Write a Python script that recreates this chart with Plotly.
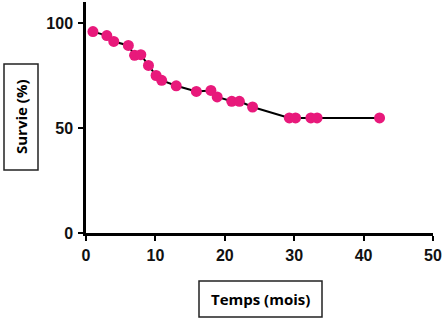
import plotly.graph_objects as go

temps = [1, 3, 4, 6.1, 7, 7.9, 9, 10.1, 10.9, 13, 15.9, 18, 18.9, 21, 22.1, 24, 29.3, 30.2, 32.4, 33.3, 42.3]
survie = [95.9, 94.0, 91.2, 89.3, 84.6, 84.9, 79.8, 75.0, 72.7, 70.1, 67.4, 67.9, 64.8, 62.7, 62.7, 60.0, 54.8, 54.8, 54.8, 54.8, 54.8]
x_ticks = [0, 10, 20, 30, 40, 50]
y_ticks = [0, 50, 100]
x_title = "Temps (mois)"
y_title = "Survie (%)"

W, H = 448, 321
L, R, T, B = 86, 15, 2, 88
pw, ph = W - L - R, H - T - B


def px(x):
    return (x - L) / pw


def py(y):
    return (H - B - y) / ph


fig = go.Figure()
fig.add_trace(go.Scatter(
    x=temps, y=survie, mode="lines+markers",
    line=dict(color="black", width=2),
    marker=dict(color="#e8197b", size=11, line=dict(width=0)),
    showlegend=False,
))

axis_font = dict(family="Liberation Sans, Arial, sans-serif", size=16, color="#111111")
fig.update_xaxes(
    range=[0, 50], tickvals=x_ticks, ticktext=[str(v) for v in x_ticks],
    showline=True, linecolor="black", linewidth=2.5, ticks="outside",
    ticklen=5, tickwidth=2, tickcolor="black", showgrid=False, zeroline=False,
    tickfont=dict(**axis_font, weight="bold"), ticklabelstandoff=1,
)
fig.update_yaxes(
    range=[0, 110], tickvals=y_ticks, ticktext=[str(v) for v in y_ticks],
    showline=True, linecolor="black", linewidth=2.5, ticks="outside",
    ticklen=5, tickwidth=2, tickcolor="black", showgrid=False, zeroline=False,
    tickfont=dict(**axis_font, weight="bold"), ticklabelstandoff=2,
)

box_line = dict(color="#222222", width=1.5)
fig.add_shape(type="rect", xref="paper", yref="paper",
              x0=px(4), x1=px(38), y0=py(170), y1=py(64), line=box_line)
fig.add_shape(type="rect", xref="paper", yref="paper",
              x0=px(199), x1=px(322), y0=py(317), y1=py(281), line=box_line)

title_font = dict(family="Open Sans, sans-serif", size=15, color="black", weight="bold")
fig.add_annotation(text=y_title, xref="paper", yref="paper", x=px(21), y=py(117),
                   textangle=-90, showarrow=False, font=title_font,
                   xanchor="center", yanchor="middle")
fig.add_annotation(text=x_title, xref="paper", yref="paper", x=px(260.5), y=py(299),
                   showarrow=False, font=title_font,
                   xanchor="center", yanchor="middle")

fig.update_layout(
    width=W, height=H,
    margin=dict(l=L, r=R, t=T, b=B),
    paper_bgcolor="white", plot_bgcolor="white",
)
fig.write_html("out.html")
